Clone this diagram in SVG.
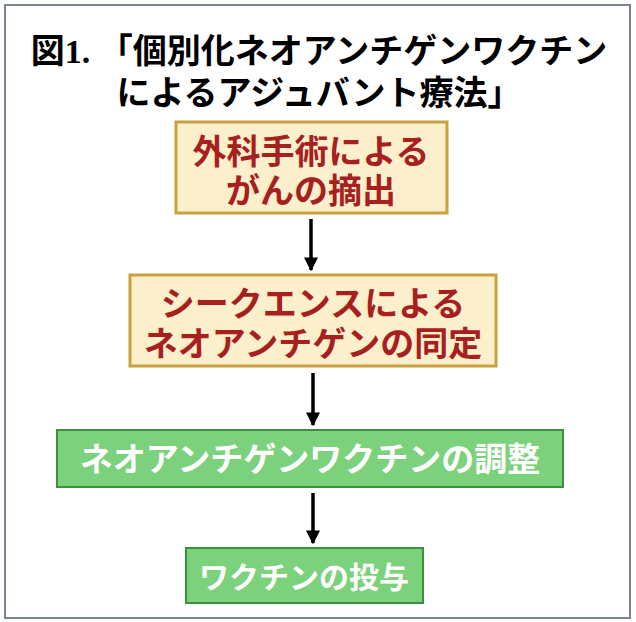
<svg xmlns="http://www.w3.org/2000/svg" width="636" height="622" viewBox="0 0 636 622">
<style>
.t{font-family:"Liberation Serif","Noto Sans CJK JP",serif;font-weight:bold;text-anchor:middle}
.y{fill:#fcf0cc;stroke:#c8a23c;stroke-width:3}
.g{fill:#7cd27c;stroke:#3f8f3f;stroke-width:2}
.r{fill:#a8201e;font-size:34px}
.w{fill:#fff;font-size:33px}
</style>
<defs><marker id="a" viewBox="0 0 10 10" refX="9" refY="5" markerWidth="4" markerHeight="4" orient="auto"><path d="M0,0L10,5L0,10z" fill="#000"/></marker></defs>
<rect x="0" y="0" width="636" height="622" fill="#fff"/>
<rect x="5" y="5" width="625" height="613" fill="#fff" stroke="#7d8595" stroke-width="2"/>
<g id="title"><text class="t" x="319" y="63" font-size="34" fill="#000">図1. 「個別化ネオアンチゲンワクチン</text><text class="t" x="319" y="105" font-size="34" fill="#000">によるアジュバント療法」</text></g>
<g id="n1"><rect class="y" x="176" y="122" width="271" height="91"/><text class="t r" x="311" y="164">外科手術による</text><text class="t r" x="311" y="203">がんの摘出</text></g>
<g id="n2"><rect class="y" x="130" y="275" width="366" height="91"/><text class="t r" x="313" y="316">シークエンスによる</text><text class="t r" x="313" y="356">ネオアンチゲンの同定</text></g>
<g id="n3"><rect class="g" x="57" y="430" width="506" height="57"/><text class="t w" x="310" y="471">ネオアンチゲンワクチンの調整</text></g>
<g id="n4"><rect class="g" x="186" y="548" width="237" height="55"/><text class="t w" x="304" y="588" style="font-size:30px">ワクチンの投与</text></g>
<g id="edges" stroke="#000" stroke-width="3.5" marker-end="url(#a)">
<line x1="311" y1="219" x2="311" y2="270"/><line x1="313" y1="373" x2="313" y2="425"/><line x1="313" y1="493" x2="313" y2="543"/>
</g>
</svg>
